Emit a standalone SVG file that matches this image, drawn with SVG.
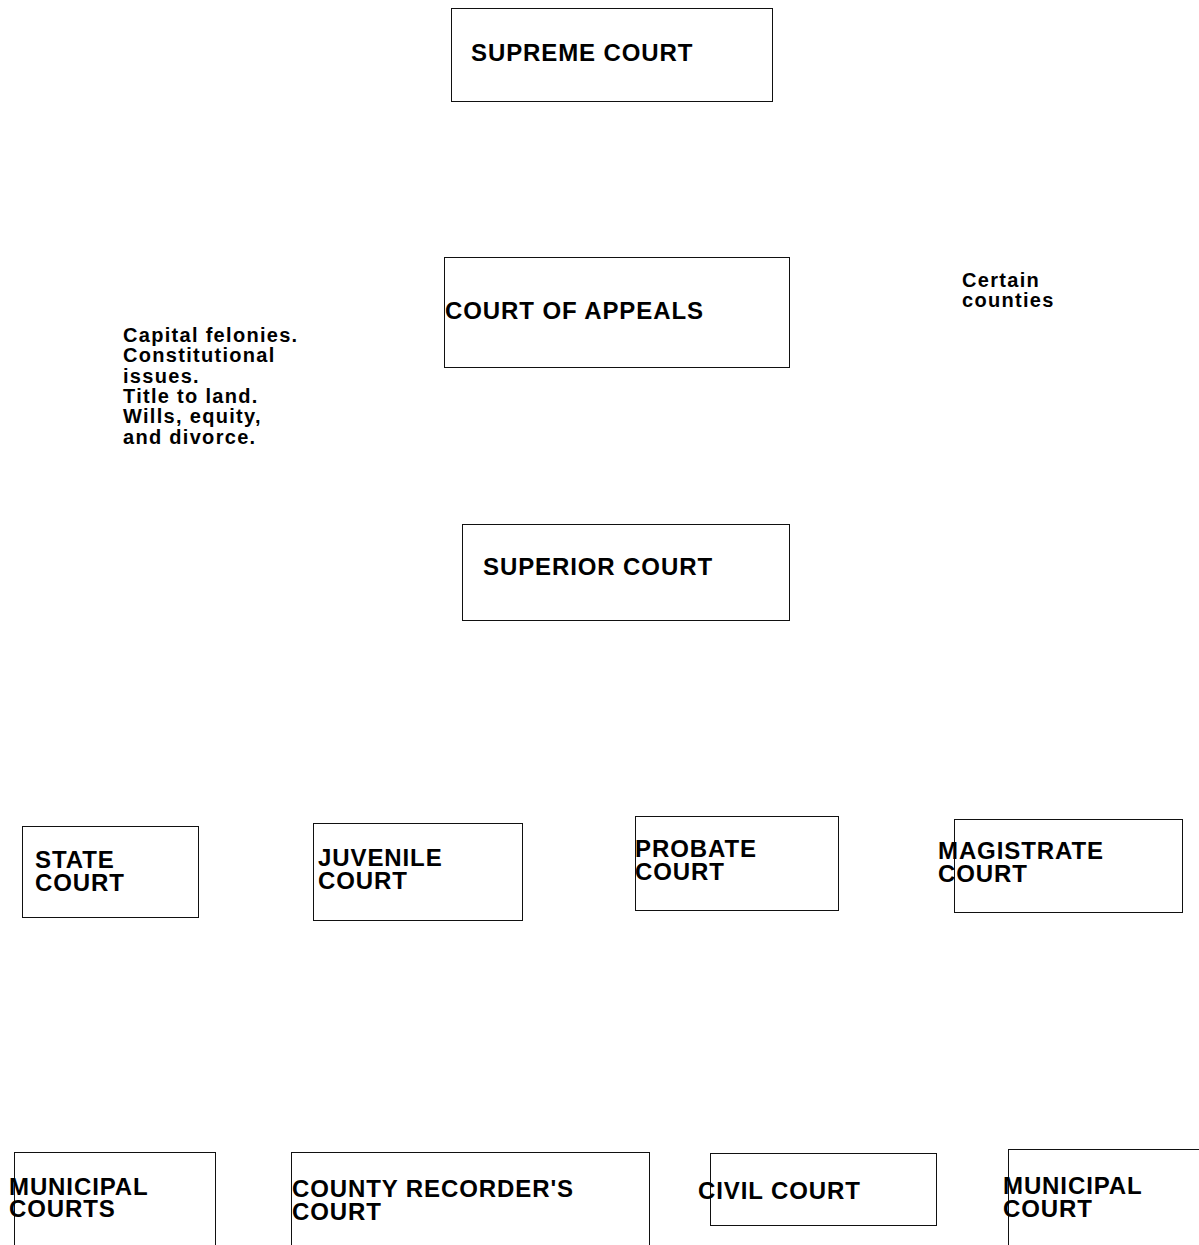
<svg xmlns="http://www.w3.org/2000/svg" width="1199" height="1245" viewBox="0 0 1199 1245">
<style>
.box{fill:none;stroke:#111;stroke-width:1}
.t{font-family:"Liberation Sans",Arial,sans-serif;font-weight:bold;font-size:24px;letter-spacing:0.9px;fill:#000}
.s{font-family:"Liberation Sans",Arial,sans-serif;font-weight:bold;font-size:20px;letter-spacing:1.3px;fill:#000}
</style>
<rect width="1199" height="1245" fill="#fff"/>
<g id="connectors"></g>
<g id="supreme"><rect class="box" x="451.5" y="8.5" width="321" height="93"/><text class="t" x="471" y="61">SUPREME COURT</text></g>
<g id="appeals"><rect class="box" x="444.5" y="257.5" width="345" height="110"/><text class="t" x="445" y="319">COURT OF APPEALS</text></g>
<g id="superior"><rect class="box" x="462.5" y="524.5" width="327" height="96"/><text class="t" x="483" y="575">SUPERIOR COURT</text></g>
<g id="note-left"><text class="s" x="123"><tspan x="123" y="342">Capital felonies.</tspan><tspan x="123" y="362.3">Constitutional</tspan><tspan x="123" y="382.6">issues.</tspan><tspan x="123" y="402.9">Title to land.</tspan><tspan x="123" y="423.2">Wills, equity,</tspan><tspan x="123" y="443.5">and divorce.</tspan></text></g>
<g id="note-right"><text class="s"><tspan x="962" y="287">Certain</tspan><tspan x="962" y="307">counties</tspan></text></g>
<g id="state"><rect class="box" x="22.5" y="826.5" width="176" height="91"/><text class="t"><tspan x="35" y="868">STATE</tspan><tspan x="35" y="890.5">COURT</tspan></text></g>
<g id="juvenile"><rect class="box" x="313.5" y="823.5" width="209" height="97"/><text class="t"><tspan x="318" y="866">JUVENILE</tspan><tspan x="318" y="889">COURT</tspan></text></g>
<g id="probate"><rect class="box" x="635.5" y="816.5" width="203" height="94"/><text class="t"><tspan x="635" y="857">PROBATE</tspan><tspan x="635" y="880">COURT</tspan></text></g>
<g id="magistrate"><rect class="box" x="954.5" y="819.5" width="228" height="93"/><text class="t"><tspan x="938" y="859">MAGISTRATE</tspan><tspan x="938" y="882">COURT</tspan></text></g>
<g id="municipal-courts"><rect class="box" x="14.5" y="1152.5" width="201" height="120"/><text class="t"><tspan x="9" y="1195">MUNICIPAL</tspan><tspan x="9" y="1217">COURTS</tspan></text></g>
<g id="county-recorder"><rect class="box" x="291.5" y="1152.5" width="358" height="120"/><text class="t"><tspan x="292" y="1197">COUNTY RECORDER'S</tspan><tspan x="292" y="1220">COURT</tspan></text></g>
<g id="civil"><rect class="box" x="710.5" y="1153.5" width="226" height="72"/><text class="t" x="698" y="1199">CIVIL COURT</text></g>
<g id="municipal-court"><rect class="box" x="1008.5" y="1149.5" width="230" height="120"/><text class="t"><tspan x="1003" y="1194">MUNICIPAL</tspan><tspan x="1003" y="1217">COURT</tspan></text></g>
</svg>
